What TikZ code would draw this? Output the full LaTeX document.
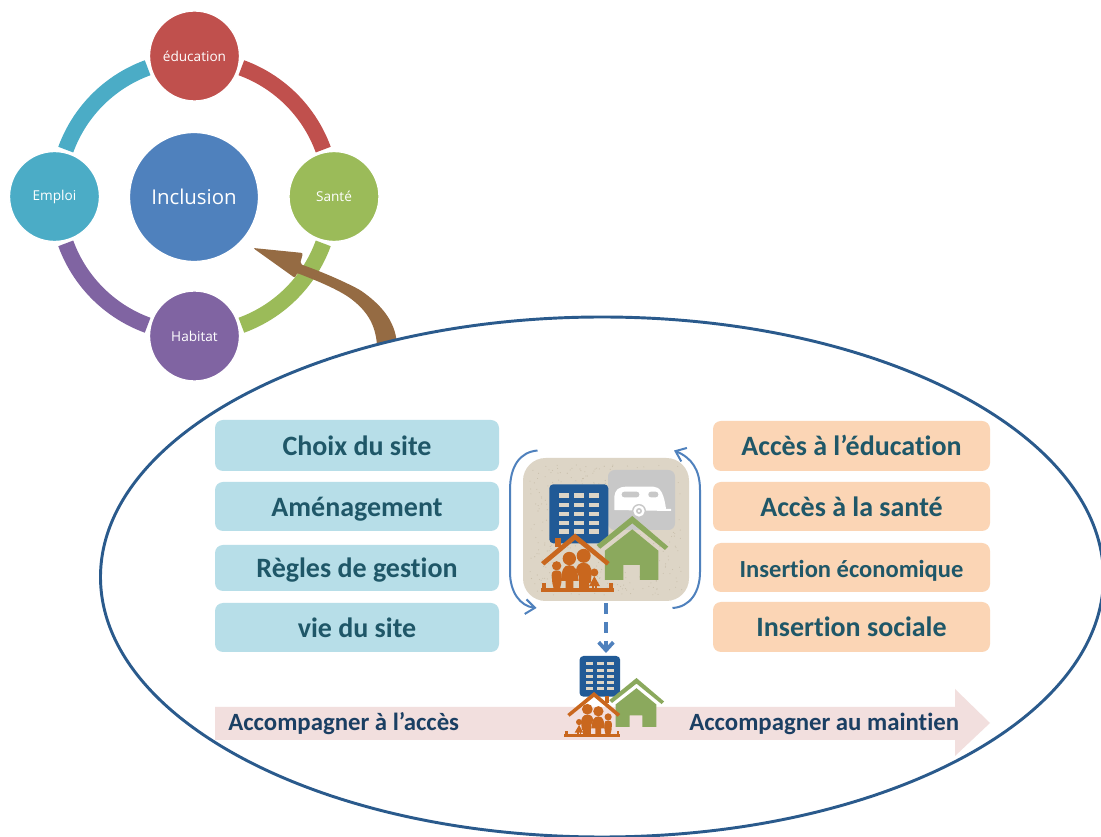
\documentclass[tikz,border=0pt]{standalone}
\usepackage{fontspec}
\setmainfont[Ligatures={NoCommon,NoRare,NoContextual},RawFeature={-liga;-clig;-dlig}]{Carlito}
\newfontfamily\labelfont{Open Sans}
\usetikzlibrary{arrows.meta,shapes.geometric}
\definecolor{cred}{HTML}{C0504D}
\definecolor{cgreen}{HTML}{9BBB59}
\definecolor{cpurple}{HTML}{8064A2}
\definecolor{cteal}{HTML}{4BACC6}
\definecolor{cblue}{HTML}{4F81BD}
\definecolor{cbrown}{HTML}{956B43}
\definecolor{ellblue}{HTML}{2A5A8C}
\definecolor{bldg}{HTML}{215A96}
\definecolor{hgreen}{HTML}{8BA95D}
\definecolor{horange}{HTML}{C9671E}
\definecolor{beige}{HTML}{DDD5C6}
\definecolor{speck}{HTML}{C9BFAC}
\definecolor{lgrey}{HTML}{C8C8C8}
\definecolor{lblue}{HTML}{B7DEE8}
\definecolor{lorange}{HTML}{FBD5B5}
\definecolor{lpink}{HTML}{F2DFDE}
\definecolor{tealtxt}{HTML}{1F5768}
\definecolor{navytxt}{HTML}{1B3F63}
\tikzset{
  x=0.75pt,y=-0.75pt,
  ringnode/.style={circle,draw=white,line width=1pt,minimum size=90*0.75pt,inner sep=0pt,text=white,font=\labelfont\fontsize{10.2}{12}\selectfont},
  arcseg/.style={line width=12pt},
  actbox/.style={rounded corners=6pt,inner sep=0pt,text height=18pt,text depth=3pt,font=\bfseries\fontsize{21}{24}\selectfont,text=tealtxt},
  bluebox/.style={actbox,fill=lblue,minimum width=284*0.75pt},
  orangebox/.style={actbox,fill=lorange,minimum width=277*0.75pt},
  bandtxt/.style={inner sep=0pt,anchor=west,text=navytxt,font=\bfseries\fontsize{18.6}{20}\selectfont},
  loopline/.style={draw=cblue,line width=1.5pt,-{Straight Barb[length=7pt,width=11pt]}},
}
\newcommand{\familyhouse}{%
  \fill[horange] (-60,15) rectangle (-43,42);
  \fill[horange] (0,0) -- (104,86) -- (95,96) -- (0,19) -- (-92,96) -- (-102,86) -- cycle;
  \fill[horange] (-103,163) rectangle (117,177);
  \fill[horange] (-98,150) rectangle (-88,165);
  \fill[horange] (103,150) rectangle (113,165);
  \fill[horange] (-17,75) circle (20);
  \fill[horange] (-42,142) .. controls (-40,110) and (-35,95) .. (-17,95) .. controls (1,95) and (8,110) .. (11,142) -- (-5,142) -- (-5,165) -- (-28,165) -- (-28,142) -- cycle;
  \fill[horange] (26,67) circle (21);
  \fill[horange] (3,110) .. controls (5,95) and (12,88) .. (26,88) .. controls (42,88) and (50,100) .. (50,120) -- (47,148) -- (42,148) -- (42,165) -- (12,165) -- (12,130) -- cycle;
  \fill[horange] (-55,97) circle (14);
  \fill[horange] (-70,125) .. controls (-70,115) and (-65,111) .. (-55,111) .. controls (-45,111) and (-40,115) .. (-40,125) -- (-41,148) -- (-45,165) -- (-64,165) -- (-68,148) -- cycle;
  \fill[horange] (58,117) circle (12);
  \fill[horange] (58,128) -- (42,158) -- (75,158) -- cycle;
  \fill[horange] (50,155) rectangle (56,166);
  \fill[horange] (60,155) rectangle (66,166);
}
\newcommand{\greenhouse}{%
  \fill[hgreen] (0,0) -- (108,92) -- (98,102) -- (0,22) -- (-96,98) -- (-107,87) -- cycle;
  \fill[hgreen] (0,40) -- (78,104) -- (78,192) -- (23,192) -- (23,147) -- (-27,147) -- (-27,192) -- (-82,192) -- (-82,104) -- cycle;
}
\newcommand{\tower}{%
  \fill[bldg,rounded corners=3pt] (0,0) rectangle (177,177);
  \foreach \r in {27,55,82,109,135} \foreach \c in {29,74,118}
    \fill[beige] (\c,\r) rectangle ++(31,14);
}
\begin{document}
\begin{tikzpicture}
\useasboundingbox (0,0) rectangle (1101,837);
% ring segments
\begin{scope}[shift={(194.5,196.5)},yscale=-1]
  \draw[arcseg,cred] (70:137) arc[start angle=70,end angle=20,radius=137];
  \draw[arcseg,cgreen] (-20:137) arc[start angle=-20,end angle=-70,radius=137];
  \draw[arcseg,cpurple] (200:137) arc[start angle=200,end angle=250,radius=137];
  \draw[arcseg,cteal] (110:137) arc[start angle=110,end angle=160,radius=137];
\end{scope}
\node[ringnode,fill=cred] (edu) at (194.5,56) {éducation};
\node[ringnode,fill=cgreen] (sante) at (334,196.5) {Santé};
\node[ringnode,fill=cteal] (emploi) at (54.5,196.5) {Emploi};
\node[ringnode,fill=cpurple] (habitat) at (194.5,336) {Habitat};
\node[circle,draw=white,line width=1pt,fill=cblue,minimum size=129*0.75pt,inner sep=0pt,text=white,font=\labelfont\fontsize{15.3}{19}\selectfont] (incl) at (194,197) {Inclusion};
% brown arrow
\fill[cbrown,rounded corners=1.5pt] (253,248) -- (303,253) -- (300,264)
  .. controls (325,273) and (345,282) .. (360,290)
  .. controls (380,304) and (395,320) .. (397,345)
  -- (377,345)
  .. controls (375,325) and (368,312) .. (350,298)
  .. controls (335,288) and (315,280) .. (297,273)
  -- (295,278) -- cycle;
% big ellipse
\node[ellipse,draw=ellblue,fill=white,line width=2.2pt,minimum width=1003*0.75pt,minimum height=520*0.75pt,inner sep=0pt] (oval) at (602,577) {};
% boxes
\node[bluebox,minimum height=51*0.75pt] (b1) at (357,445.5) {Choix du site};
\node[bluebox,minimum height=49*0.75pt] (b2) at (357,506.5) {Aménagement};
\node[bluebox,minimum height=46*0.75pt] (b3) at (357,568) {Règles de gestion};
\node[bluebox,minimum height=49*0.75pt] (b4) at (357,627.5) {vie du site};
\node[orangebox,minimum height=50*0.75pt] (o1) at (851.5,446) {Accès à l’éducation};
\node[orangebox,minimum height=49*0.75pt] (o2) at (851.5,506.5) {Accès à la santé};
\node[orangebox,minimum height=49*0.75pt,font=\bfseries\fontsize{18.4}{20}\selectfont] (o3) at (851.5,567.5) {Insertion économique};
\node[orangebox,minimum height=50*0.75pt] (o4) at (851.5,627) {Insertion sociale};
% band arrow
\fill[lpink] (215,707) -- (955,707) -- (955,689) -- (990,723) -- (955,756) -- (955,740) -- (215,740) -- cycle;
\node[bandtxt] (acc) at (228,724) {Accompagner à l’accès};
\node[bandtxt] (maint) at (689,724) {Accompagner au maintien};
% central icon
\node[fill=beige,rounded corners=17pt,minimum width=166*0.75pt,minimum height=143*0.75pt,inner sep=0pt] (icon) at (606,529.5) {};
\pgfmathsetseed{7}
\foreach \i in {1,...,450}{
  \pgfmathsetmacro{\px}{530+rnd*152}
  \pgfmathsetmacro{\py}{464+rnd*131}
  \fill[speck] (\px,\py) circle (0.55);
}
\fill[lgrey,rounded corners=5pt] (608,470) rectangle (675,530);
% caravan
\begin{scope}[shift={(490,430)},scale=1/3]
  \fill[white] (373,240) -- (373,200) .. controls (375,180) and (385,170) .. (410,170) -- (490,170) .. controls (510,170) and (522,190) .. (528,237) -- (543,237) -- (543,243) -- cycle;
  \fill[lgrey,rounded corners=2pt] (395,185) rectangle (448,202);
  \fill[lgrey,rounded corners=2pt] (475,185) rectangle (505,202);
  \fill[lgrey] (447,243) circle (21);
  \fill[white] (447,243) circle (17);
  \fill[lgrey] (447,243) circle (9);
  \fill[white] (447,243) circle (4);
\end{scope}
\begin{scope}[shift={(549.3,484.3)},scale=1/3] \tower \end{scope}
\begin{scope}[shift={(632.3,516)},scale=1/3] \greenhouse \end{scope}
\begin{scope}[shift={(575,533.5)},scale=1/3] \familyhouse \end{scope}
% loop arrows
\coordinate (ltop) at (537.5,450.5);
\coordinate (lbot) at (536.5,608);
\coordinate (rbot) at (672.5,608);
\coordinate (rtop) at (674,450.5);
\draw[loopline] (ltop) .. controls (520,452) and (510,466) .. (510,490) -- (510,572) .. controls (510,592) and (520,606) .. (lbot);
\draw[loopline] (rbot) .. controls (690,607) and (700,592) .. (700,572) -- (700,490) .. controls (700,470) and (692,458) .. (rtop);
% small icon
\coordinate (small) at (606,653);
\begin{scope}[shift={(579.5,656)},scale=0.23] \tower \end{scope}
\begin{scope}[shift={(636.5,678)},scale=0.255] \greenhouse \end{scope}
\begin{scope}[shift={(594,692)},xscale=-0.257,yscale=0.257] \familyhouse \end{scope}
% dashed arrow
\draw[cblue,line width=2.8pt,dash pattern=on 8pt off 6pt,-{Straight Barb[length=6pt,width=11pt]}] (icon.south) ++(0,2) -- (small);
\end{tikzpicture}
\end{document}
